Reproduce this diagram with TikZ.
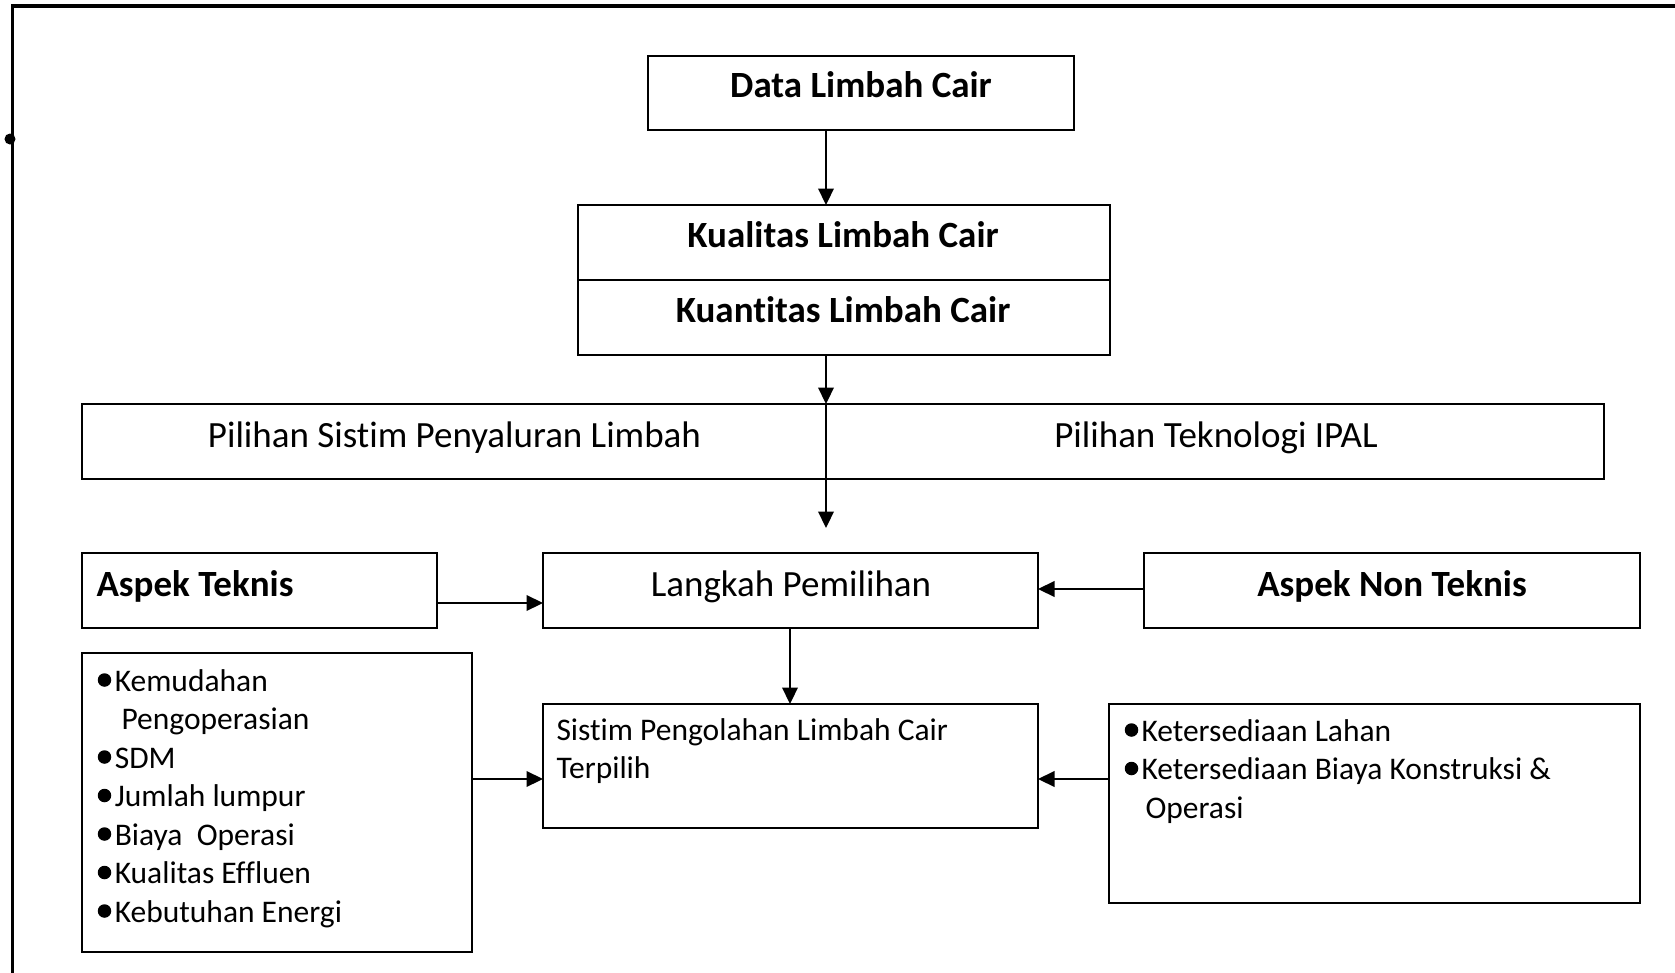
\documentclass[tikz,border=0pt]{standalone}
\usepackage{fontspec}
\setmainfont[Ligatures={NoCommon,NoContextual,NoRare},Contextuals=NoAlternate]{Carlito}
\usetikzlibrary{arrows.meta}
\newcommand{\nlg}{\kern0pt{}}
\tikzset{
  box/.style={draw, line width=0.8pt, inner sep=0pt, outer sep=0pt, rectangle},
  big/.style={inner sep=0pt, font=\fontsize{14.8pt}{18pt}\selectfont},
  bigb/.style={inner sep=0pt, font=\fontsize{14.8pt}{18pt}\selectfont\bfseries},
  small/.style={inner sep=0pt, anchor=base west, font=\fontsize{12.6pt}{15.4pt}\selectfont},
  bul/.style={circle, fill, draw=none, inner sep=0pt, minimum size=5.4pt},
  arr/.style={line width=0.9pt, -{Triangle[length=6.6pt,width=6.2pt]}},
  frame/.style={line width=1.2pt},
  dotmark/.style={circle, fill, inner sep=0pt, minimum size=4.4pt}
}
\begin{document}
\begin{tikzpicture}[x=0.4pt,y=-0.4pt]
\useasboundingbox (0,0) rectangle (1675,973);
% outer frame
\draw[frame] (12,980) -- (12,6) -- (1680,6);
\node[dotmark] (dot) at (10,139) {};

% boxes
\node[box, minimum width=170.4pt, minimum height=29.6pt] (data) at (861,93) {};
\node[box, minimum width=212.8pt, minimum height=30pt] (kual) at (844,242.5) {};
\node[box, minimum width=212.8pt, minimum height=30pt] (kuan) at (844,317.5) {};
\node[box, minimum width=608.8pt, minimum height=30pt] (pil) at (843,441.5) {};
\node[box, minimum width=142pt, minimum height=30pt] (aspt) at (259.5,590.5) {};
\node[box, minimum width=198pt, minimum height=30pt] (lang) at (790.5,590.5) {};
\node[box, minimum width=198.4pt, minimum height=30pt] (aspn) at (1392,590.5) {};
\node[box, minimum width=198pt, minimum height=49.6pt] (sist) at (790.5,766) {};
\node[box, minimum width=156pt, minimum height=119.6pt] (listl) at (277,802.5) {};
\node[box, minimum width=212.4pt, minimum height=79.6pt] (listr) at (1374.5,803.5) {};

% texts
\node[bigb, anchor=base] (tdata) at (861,97) {Data Limbah Cair};
\node[bigb, anchor=base] (tkual) at (843,247) {Kualitas Limbah Cair};
\node[bigb, anchor=base] (tkuan) at (843,322) {Kuant\nlg itas Limbah Cair};
\node[big, anchor=base] (tpil1) at (454.5,447) {Pilihan Sist\nlg im Penyaluran Limbah};
\node[big, anchor=base] (tpil2) at (1216,447) {Pilihan Teknologi IPAL};
\node[bigb, anchor=base west] (taspt) at (96,596) {Aspek Teknis};
\node[big, anchor=base] (tlang) at (791,596) {Langkah Pemilihan};
\node[bigb, anchor=base] (taspn) at (1392,596) {Aspek Non Teknis};
\node[small] (tsist1) at (556,740) {Sist\nlg im Pengolahan Limbah Cair};
\node[small] (tsist2) at (556,778.5) {Terpilih};

% left list
\node[bul] (bl1) at (104.5,680) {};
\node[small] (l1) at (114.3,691) {Kemudahan};
\node[small] (l2) at (121,729.5) {Pengoperasian};
\node[bul] (bl3) at (104.5,757) {};
\node[small] (l3) at (114.3,768) {SDM};
\node[bul] (bl4) at (104.5,795.5) {};
\node[small] (l4) at (114.3,806.5) {Jumlah lumpur};
\node[bul] (bl5) at (104.5,834) {};
\node[small] (l5) at (114.3,845) {Biaya~~Operasi};
\node[bul] (bl6) at (104.5,872.5) {};
\node[small] (l6) at (114.3,883.5) {Kualitas Ef\nlg f\nlg luen};
\node[bul] (bl7) at (104.5,911) {};
\node[small] (l7) at (114.3,922) {Kebutuhan Energi};

% right list
\node[bul] (br1) at (1131.5,730) {};
\node[small] (r1) at (1141,741) {Ketersediaan Lahan};
\node[bul] (br2) at (1131.5,768.5) {};
\node[small] (r2) at (1141,779.5) {Ketersediaan Biaya Konstruksi \&};
\node[small] (r3) at (1145,818) {Operasi};

% reference coordinates
\coordinate (xa) at (826,0);
\coordinate (xc) at (790,0);
\coordinate (pend) at (826,528);
\coordinate (ya) at (0,603);
\coordinate (yb) at (0,589);
\coordinate (yd) at (0,779);

% connectors
\draw[arr] (xa |- data.south) -- (xa |- kual.north);
\draw[arr] (xa |- kuan.south) -- (xa |- pil.north);
\draw[arr] (xa |- pil.north) -- (pend);
\draw[arr] (aspt.east |- ya) -- (lang.west |- ya);
\draw[arr] (aspn.west |- yb) -- (lang.east |- yb);
\draw[arr] (xc |- lang.south) -- (xc |- sist.north);
\draw[arr] (listl.east |- yd) -- (sist.west |- yd);
\draw[arr] (listr.west |- yd) -- (sist.east |- yd);
\end{tikzpicture}
\end{document}
